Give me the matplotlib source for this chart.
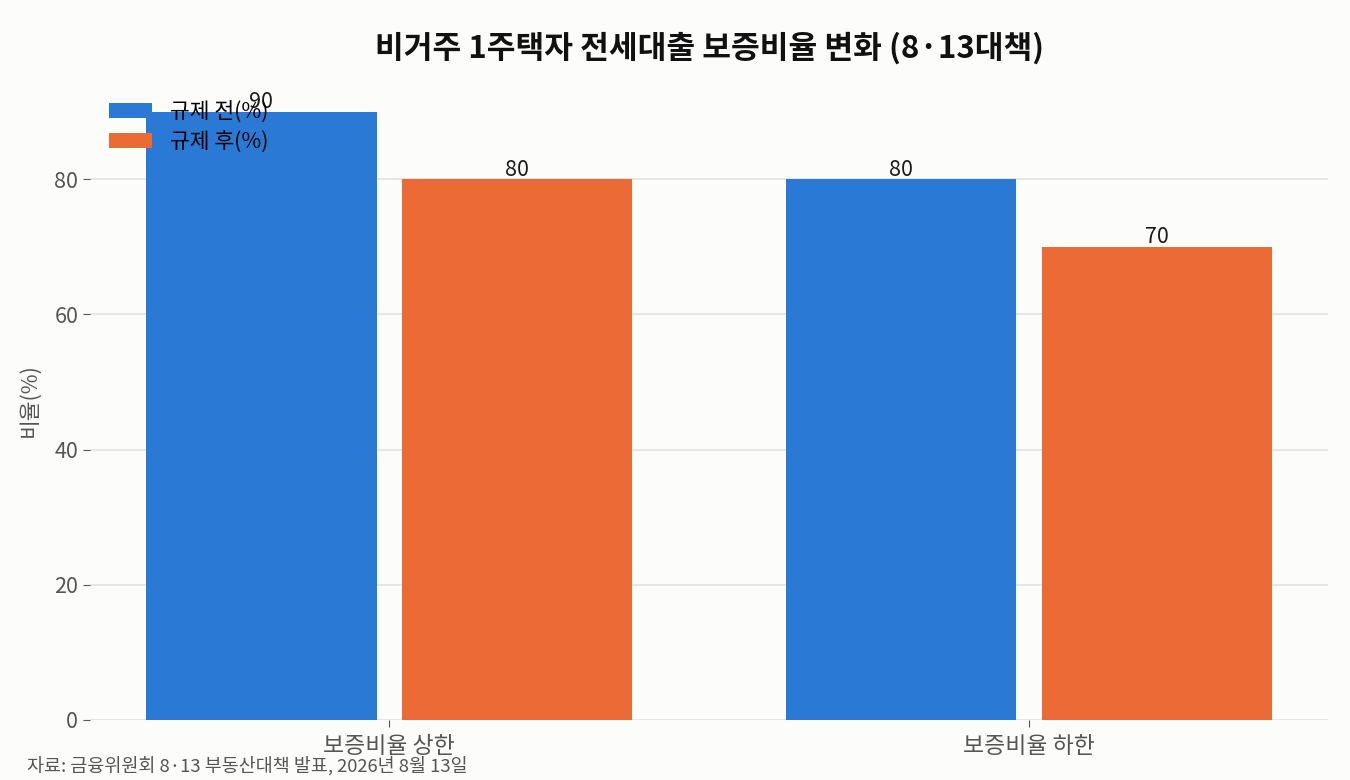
import numpy as np
import matplotlib
matplotlib.use('Agg')
import matplotlib.pyplot as plt

plt.rcParams['font.family'] = ['Noto Sans CJK KR', 'DejaVu Sans']

# data
categories = ['보증비율 상한', '보증비율 하한']
before = [90, 80]
after = [80, 70]
series_names = ['규제 전(%)', '규제 후(%)']

title = '비거주 1주택자 전세대출 보증비율 변화 (8·13대책)'
source = '자료: 금융위원회 8·13 부동산대책 발표, 2026년 8월 13일'

bg = '#fcfcfa'
fig = plt.figure(figsize=(13.5, 7.8), dpi=100, facecolor=bg)
ax = fig.add_axes([0.0667, 0.077, 0.917, 0.819], facecolor=bg)

x = np.arange(len(categories))
w = 0.36
b1 = ax.bar(x - 0.2, before, w, color='#2a7ad5', label=series_names[0], zorder=3)
b2 = ax.bar(x + 0.2, after, w, color='#eb6a35', label=series_names[1], zorder=3)
ax.bar_label(b1, fontsize=15.5, color='#1a1a1a', padding=-1)
ax.bar_label(b2, fontsize=15.5, color='#1a1a1a', padding=-1)

ax.set_xticks(x)
ax.set_xticklabels(categories, fontsize=16.5, color='#555555')
ax.set_yticks([0, 20, 40, 60, 80])
ax.tick_params(axis='y', labelsize=15.5, labelcolor='#555555', color='#555555', length=5)
ax.tick_params(axis='x', color='#555555', length=5, pad=6)
ax.set_ylabel('비율(%)', fontsize=15.5, color='#555555', labelpad=10)
ax.yaxis.grid(True, color='#e2e2e2', linewidth=1.2, zorder=0)
ax.set_axisbelow(True)
for s in ['top', 'right', 'left', 'bottom']:
    ax.spines[s].set_visible(False)

ax.legend(loc='upper left', frameon=False, fontsize=15.5, bbox_to_anchor=(0.0, 1.0),
          handlelength=2.0, handleheight=0.7, labelspacing=0.4)
ax.set_title(title, fontsize=22.5, fontweight='bold', color='#111111', pad=17)
fig.text(0.02, 0.005, source, fontsize=13.3, color='#555555', ha='left', va='bottom')

fig.savefig('out.png', dpi=100, facecolor=bg)
